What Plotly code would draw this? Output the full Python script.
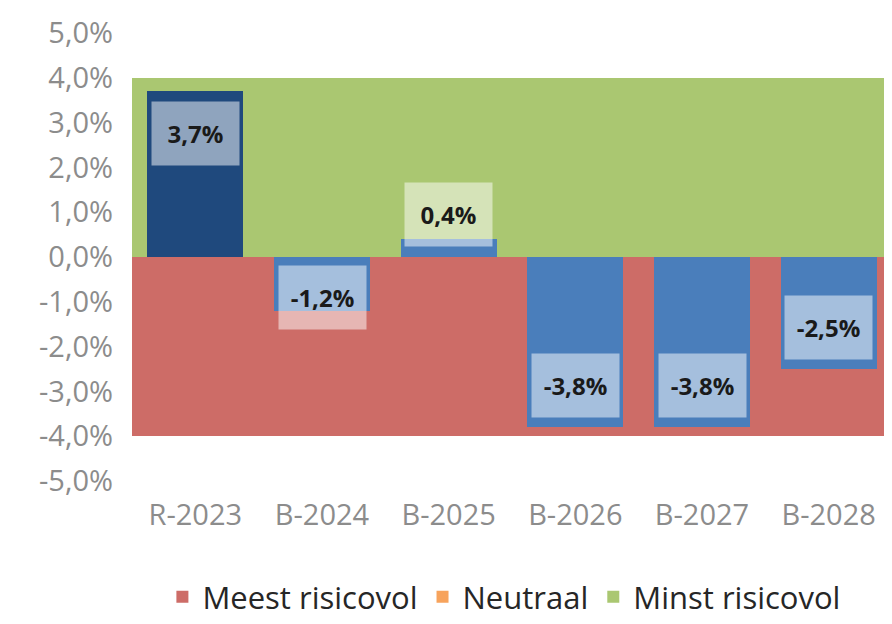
import plotly.graph_objects as go

categories = ["R-2023", "B-2024", "B-2025", "B-2026", "B-2027", "B-2028"]
values = [3.7, -1.2, 0.4, -3.8, -3.8, -2.5]
band_meest = [-4.0] * 6
band_neutraal = [0.0] * 6
band_minst = [4.0] * 6
tick_vals = [5, 4, 3, 2, 1, 0, -1, -2, -3, -4, -5]
tick_text = ["5,0%", "4,0%", "3,0%", "2,0%", "1,0%", "0,0%",
             "-1,0%", "-2,0%", "-3,0%", "-4,0%", "-5,0%"]

RED = "rgb(205,108,103)"
ORANGE = "rgb(247,163,92)"
GREEN = "rgb(170,199,113)"
BLUE = "rgb(74,126,187)"
NAVY = "rgb(31,73,125)"

fig = go.Figure()
fig.add_trace(go.Bar(x=categories, y=band_meest, width=1, name="Meest risicovol",
                     marker=dict(color=RED, line=dict(width=0))))
fig.add_trace(go.Bar(x=categories, y=band_neutraal, width=1, name="Neutraal",
                     marker=dict(color=ORANGE, line=dict(width=0))))
fig.add_trace(go.Bar(x=categories, y=band_minst, width=1, name="Minst risicovol",
                     marker=dict(color=GREEN, line=dict(width=0))))
bar_colors = [NAVY] + [BLUE] * (len(values) - 1)
fig.add_trace(go.Bar(x=categories, y=values, width=0.76, showlegend=False,
                     marker=dict(color=bar_colors, line=dict(width=0))))

# label placement (Excel-like "inside end" with fallbacks)
px_per_unit = 45.0
for c, v in zip(categories, values):
    s = 1 if v >= 0 else -1
    if abs(v) < 1.0:
        center = v + s * 25 / px_per_unit
    else:
        center = v - s * 42 / px_per_unit
        limit = 41 / px_per_unit
        if abs(center) < limit:
            center = s * limit
    txt = ("%.1f" % v).replace(".", ",") + "%"
    fig.add_annotation(x=c, y=center, text="<b>" + txt + "</b>", showarrow=False,
                       xref="x", yref="y", width=85, height=61, borderpad=1,
                       bgcolor="rgba(255,255,255,0.5)",
                       font=dict(family="Open Sans", size=24, color="#1a1a1a"))

fig.update_layout(
    width=884, height=616,
    margin=dict(l=124, r=0, t=25, b=141),
    barmode="overlay", bargap=0,
    plot_bgcolor="white", paper_bgcolor="white",
    font=dict(family="Open Sans", color="#7f7f7f"),
    showlegend=True,
    legend=dict(orientation="h", x=0.49, xanchor="center", y=-0.26, yanchor="middle",
                font=dict(size=31, color="#262626"), traceorder="normal",
                itemwidth=30),
    xaxis=dict(showgrid=False, showline=False, zeroline=False, ticks="",
               tickfont=dict(size=29, color="#8c8c8c"), ticklabelstandoff=14,
               range=[-0.5, 5.5]),
    yaxis=dict(range=[-5, 5], tickvals=tick_vals, ticktext=tick_text,
               showgrid=False, showline=False, zeroline=False, ticks="",
               tickfont=dict(size=29, color="#8c8c8c"), ticklabelstandoff=18),
)

fig.write_html("out.html")
